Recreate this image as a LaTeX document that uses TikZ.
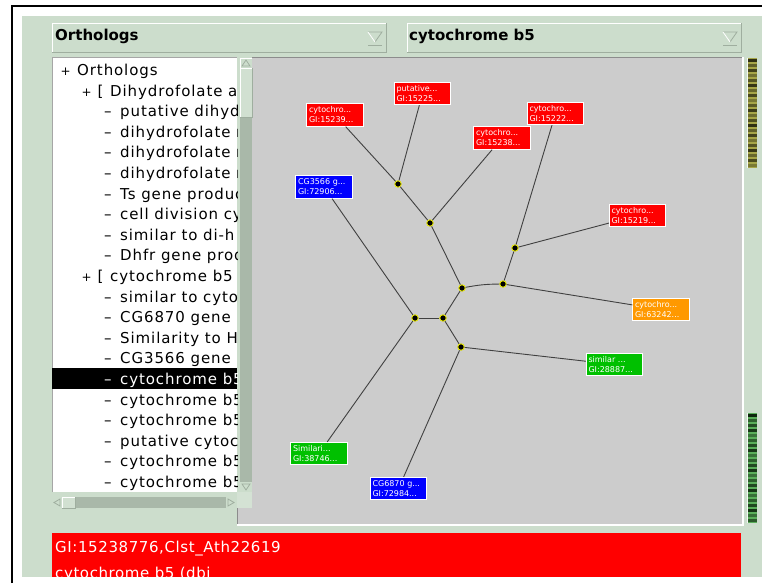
\documentclass[tikz,border=0pt]{standalone}
\usepackage{fontspec}
\setmainfont{DejaVu Sans}
\newfontfamily\listfont[LetterSpace=6]{DejaVu Sans}
\newfontfamily\barfont[LetterSpace=4]{DejaVu Sans}
\newfontfamily\ddfont{DejaVu Sans}
\definecolor{panel}{HTML}{CCDDCC}
\definecolor{track}{HTML}{A9B8A9}
\definecolor{canvasgray}{HTML}{CCCCCC}
\definecolor{cred}{HTML}{FF0000}
\definecolor{cblue}{HTML}{0000FF}
\definecolor{cgreen}{HTML}{00C000}
\definecolor{corange}{HTML}{FF9900}
\definecolor{dotyellow}{HTML}{E8E800}
\definecolor{ddshade}{HTML}{9FAE9F}
\definecolor{olivedark}{HTML}{22220C}
\definecolor{olivelight}{HTML}{A6A648}
\definecolor{greendark}{HTML}{0A1F0A}
\definecolor{greenlight}{HTML}{5AAE5A}
\begin{document}
\begin{tikzpicture}[x=1pt,y=-1pt,
  leaf/.style={draw=white, line width=0.8pt, text=white, minimum width=56.5pt,
    minimum height=22.5pt, inner xsep=2pt, inner ysep=0pt, text width=52pt,
    align=left, font=\fontsize{8}{10}\selectfont},
  dot/.style={circle, fill=black, draw=dotyellow, line width=0.9pt,
    minimum size=6.5pt, inner sep=0pt},
  edge/.style={draw=black!75, line width=0.9pt},
  li/.style={anchor=base west, inner sep=0pt, font=\listfont\fontsize{15}{18}\selectfont},
  ddtext/.style={anchor=base west, inner sep=0pt, font=\ddfont\bfseries\fontsize{15}{18}\selectfont},
  bartext/.style={anchor=base west, inner sep=0pt, text=white, font=\barfont\fontsize{15}{18}\selectfont},
  tri/.style={draw=ddshade, line width=0.8pt},
]
\useasboundingbox (0,0) rectangle (762,583);
\fill[white] (0,0) rectangle (762,583);
% panel and frame
\fill[panel] (22,16) rectangle (762,577);
\draw[black, line width=2pt] (12,583) -- (12,6) -- (762,6);

% dropdowns
\foreach \xa in {52,407} {
  \fill[panel] (\xa,23) rectangle ({\xa+334},52);
  \draw[white, line width=0.8pt] (\xa,52) -- (\xa,23) -- ({\xa+334},23);
  \draw[ddshade, line width=0.8pt] (\xa,52) -- ({\xa+334},52) -- ({\xa+334},23);
  \draw[tri] ({\xa+316},32) -- ({\xa+330},32) -- ({\xa+323},42);
  \draw[white, line width=0.8pt] ({\xa+316},32) -- ({\xa+323},42);
  \draw[tri] ({\xa+316},45) -- ({\xa+330},45);
}
\node[ddtext] (dd1) at (55,41) {Orthologs};
\node[ddtext] (dd2) at (409,41) {cytochrome b5};

% canvas
\fill[canvasgray] (237,57) rectangle (743,525);
\draw[black!45, line width=1pt] (237,525) -- (237,57.5) -- (743,57.5);
\draw[white, line width=1.5pt] (237,525) -- (743,525) -- (743,57);

% list box
\fill[white] (52,57) rectangle (237,492);
\draw[black!35, line width=0.8pt] (52,492) -- (52,57) -- (237,57);
% vertical scrollbar
\fill[panel] (237,57) rectangle (252,508);
\fill[track] (240,58) rectangle (252,492);
\fill[panel] (240,58) rectangle (252,68);
\draw[white, line width=0.6pt] (240,68) -- (240,58) -- (252,58);
\draw[tri] (242,66) -- (246,60) -- (250,66) -- cycle;
\fill[panel!90!white] (240,68) rectangle (252,117);
\draw[white, line width=0.6pt] (240,117) -- (240,68) -- (252,68);
\draw[ddshade, line width=0.6pt] (240,117) -- (252,117) -- (252,68);
\fill[panel] (240,482) rectangle (252,492);
\draw[tri] (242,484) -- (250,484) -- (246,490) -- cycle;
% horizontal scrollbar
\fill[track] (52,497) rectangle (237,508);
\fill[panel] (52,497) rectangle (62,508);
\draw[tri] (60,499) -- (54,502.5) -- (60,506) -- cycle;
\fill[panel!90!white] (62,497) rectangle (75,508);
\draw[white, line width=0.6pt] (62,508) -- (62,497) -- (75,497);
\draw[ddshade, line width=0.6pt] (62,508) -- (75,508) -- (75,497);
\fill[panel] (226,497) rectangle (237,508);
\draw[tri] (228,499) -- (234,502.5) -- (228,506) -- cycle;
\fill[panel!85!white] (237,492) rectangle (252,508);

% list items
\fill[black] (52,368) rectangle (237,389);
\begin{scope}
\clip (52,57) rectangle (237,492);
\node[li] (t1) at (60.5,75.5) {\makebox[16.5pt][l]{\fontsize{12}{12}\selectfont +}Orthologs};
\node[li] (t2) at (81.5,96.1) {\makebox[16pt][l]{\fontsize{12}{12}\selectfont +}\makebox[12.5pt][l]{[}Dihydrofolate and};
\node[li] (t3) at (104,116.7) {\makebox[16pt][l]{–}putative dihyd};
\node[li] (t4) at (104,137.3) {\makebox[16pt][l]{–}dihydrofolate r};
\node[li] (t5) at (104,157.9) {\makebox[16pt][l]{–}dihydrofolate r};
\node[li] (t6) at (104,178.5) {\makebox[16pt][l]{–}dihydrofolate r};
\node[li] (t7) at (104,199.1) {\makebox[16pt][l]{–}Ts gene product};
\node[li] (t8) at (104,219.7) {\makebox[16pt][l]{–}cell division cy};
\node[li] (t9) at (104,240.3) {\makebox[16pt][l]{–}similar to di-h};
\node[li] (t10) at (104,260.9) {\makebox[16pt][l]{–}Dhfr gene prod};
\node[li] (t11) at (81.5,281.5) {\makebox[16pt][l]{\fontsize{12}{12}\selectfont +}\makebox[12.5pt][l]{[}cytochrome b5};
\node[li] (t12) at (104,302.1) {\makebox[16pt][l]{–}similar to cyto};
\node[li] (t13) at (104,322.7) {\makebox[16pt][l]{–}CG6870 gene};
\node[li] (t14) at (104,343.3) {\makebox[16pt][l]{–}Similarity to H};
\node[li] (t15) at (104,363.9) {\makebox[16pt][l]{–}CG3566 gene};
\node[li, text=white] (t16) at (104,384.5) {\makebox[16pt][l]{–}cytochrome b5};
\node[li] (t17) at (104,405.1) {\makebox[16pt][l]{–}cytochrome b5};
\node[li] (t18) at (104,425.7) {\makebox[16pt][l]{–}cytochrome b5};
\node[li] (t19) at (104,446.3) {\makebox[16pt][l]{–}putative cytoc};
\node[li] (t20) at (104,466.9) {\makebox[16pt][l]{–}cytochrome b5};
\node[li] (t21) at (104,487.5) {\makebox[16pt][l]{–}cytochrome b5};
\end{scope}

% right indicators
\fill[olivelight] (747,58) rectangle (757,168);
\foreach \k in {0,...,21} {
  \pgfmathsetmacro\sh{90-mod(\k*37,60)}
  \fill[olivedark!\sh!olivelight] (748,{58+5*\k+1.3}) rectangle (757,{58+5*\k+4});
}
\draw[white!80!panel, line width=0.6pt] (747,58) -- (747,168);
\fill[greenlight] (747,413) rectangle (757,523);
\foreach \k in {0,...,21} {
  \pgfmathsetmacro\sh{95-mod(\k*41,55)}
  \fill[greendark!\sh!greenlight] (748,{413+5*\k+1.3}) rectangle (757,{413+5*\k+4});
}
\draw[white!80!panel, line width=0.6pt] (747,413) -- (747,523);

% tree: inner nodes
\node[dot] (A) at (398,184) {};
\node[dot] (B) at (430,223) {};
\node[dot] (C) at (515,248) {};
\node[dot] (D) at (462,288) {};
\node[dot] (E) at (503,284) {};
\node[dot] (F) at (415,318) {};
\node[dot] (G) at (443,318) {};
\node[dot] (H) at (461,347) {};
% leaves
\node[leaf, fill=cred] (L1) at (335,115) {cytochro...\\GI:15239...};
\node[leaf, fill=cred] (L2) at (422.5,93.5) {putative...\\GI:15225...};
\node[leaf, fill=cred] (L3) at (502,138) {cytochro...\\GI:15238...};
\node[leaf, fill=cred] (L4) at (555.5,113.5) {cytochro...\\GI:15222...};
\node[leaf, fill=cred] (L5) at (637.5,215.5) {cytochro...\\GI:15219...};
\node[leaf, fill=cblue] (L6) at (324,187) {CG3566 g...\\GI:72906...};
\node[leaf, fill=corange] (L7) at (661,309.5) {cytochro...\\GI:63242...};
\node[leaf, fill=cgreen] (L8) at (614.5,364.5) {similar ...\\GI:28887...};
\node[leaf, fill=cgreen] (L9) at (319,453.5) {Similari...\\GI:38746...};
\node[leaf, fill=cblue] (L10) at (398.5,488.5) {CG6870 g...\\GI:72984...};
% edges
\draw[edge] (L1) -- (A);
\draw[edge] (L2) -- (A);
\draw[edge] (A) -- (B);
\draw[edge] (L3) -- (B);
\draw[edge] (B) -- (D);
\draw[edge] (L4) -- (C);
\draw[edge] (L5) -- (C);
\draw[edge] (C) -- (E);
\draw[edge] (D) to[bend left=5] (E);
\draw[edge] (E) -- (L7);
\draw[edge] (D) -- (G);
\draw[edge] (L6) -- (F);
\draw[edge] (F) -- (G);
\draw[edge] (G) -- (H);
\draw[edge] (H) -- (L8);
\draw[edge] (F) -- (L9);
\draw[edge] (H) -- (L10);

% bottom info bar
\fill[cred] (52,533) rectangle (741,577);
\begin{scope}
\clip (52,533) rectangle (741,577);
\node[bartext] (info1) at (55,552) {GI:15238776,Clst\_Ath22619};
\node[bartext] (info2) at (55,578) {cytochrome b5 (dbj};
\end{scope}
\end{tikzpicture}
\end{document}
